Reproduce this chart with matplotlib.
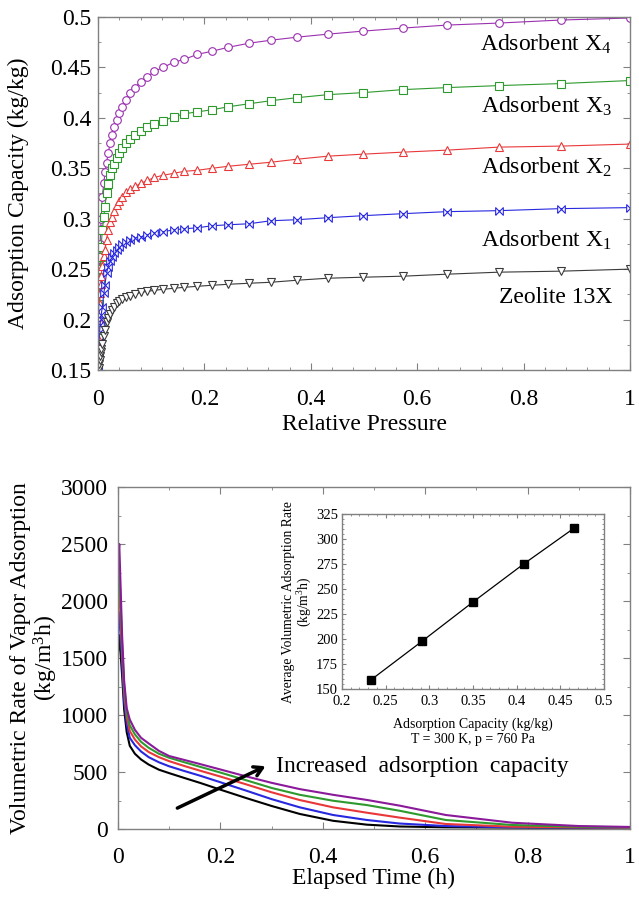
import matplotlib
matplotlib.use("Agg")
import matplotlib.pyplot as plt
from matplotlib import font_manager
from matplotlib.ticker import MultipleLocator

_names = {f.name for f in font_manager.fontManager.ttflist}
if 'Liberation Serif' in _names:
    SERIF = 'Liberation Serif'
else:
    SERIF = 'STIXGeneral'
plt.rcParams['font.family'] = [SERIF, 'STIXGeneral', 'DejaVu Serif']
plt.rcParams['mathtext.fontset'] = 'custom'
plt.rcParams['mathtext.rm'] = SERIF
plt.rcParams['mathtext.it'] = SERIF + ':italic'

# ---------------- Top panel data: adsorption isotherms ----------------
rel_pressure = [0.0, 0.001, 0.002, 0.003, 0.004, 0.005, 0.006, 0.008, 0.011, 0.013,
                0.016, 0.019, 0.023, 0.026, 0.030, 0.035, 0.040, 0.045, 0.053, 0.061,
                0.070, 0.080, 0.093, 0.106, 0.122, 0.142, 0.162, 0.187, 0.214, 0.245,
                0.284, 0.325, 0.374, 0.432, 0.498, 0.573, 0.656, 0.754, 0.870, 1.0]

cap_x4 = [0.15, 0.200, 0.235, 0.260, 0.275, 0.290, 0.300, 0.322, 0.335, 0.346,
          0.355, 0.365, 0.375, 0.383, 0.391, 0.398, 0.405, 0.411, 0.418, 0.425,
          0.430, 0.436, 0.441, 0.446, 0.450, 0.455, 0.458, 0.463, 0.466, 0.470,
          0.474, 0.477, 0.480, 0.483, 0.486, 0.489, 0.492, 0.494, 0.497, 0.499]
cap_x3 = [0.15, 0.190, 0.215, 0.235, 0.250, 0.262, 0.272, 0.289, 0.302, 0.312,
          0.325, 0.334, 0.343, 0.350, 0.354, 0.360, 0.365, 0.370, 0.375, 0.379,
          0.383, 0.387, 0.391, 0.394, 0.397, 0.401, 0.404, 0.406, 0.408, 0.411,
          0.414, 0.417, 0.420, 0.423, 0.425, 0.428, 0.430, 0.432, 0.434, 0.437]
cap_x2 = [0.15, 0.180, 0.200, 0.215, 0.226, 0.235, 0.243, 0.253, 0.263, 0.269,
          0.279, 0.289, 0.297, 0.302, 0.308, 0.314, 0.318, 0.322, 0.326, 0.329,
          0.332, 0.335, 0.338, 0.341, 0.343, 0.345, 0.347, 0.348, 0.350, 0.352,
          0.354, 0.356, 0.359, 0.362, 0.364, 0.366, 0.368, 0.371, 0.372, 0.374]
cap_x1 = [0.15, 0.165, 0.178, 0.188, 0.195, 0.201, 0.205, 0.212, 0.226, 0.234,
          0.246, 0.252, 0.258, 0.262, 0.266, 0.269, 0.272, 0.275, 0.277, 0.279,
          0.281, 0.282, 0.284, 0.286, 0.287, 0.289, 0.290, 0.291, 0.293, 0.294,
          0.295, 0.298, 0.299, 0.301, 0.303, 0.305, 0.307, 0.308, 0.310, 0.311]
cap_13x = [0.15, 0.152, 0.156, 0.160, 0.164, 0.168, 0.171, 0.176, 0.184, 0.190,
           0.198, 0.202, 0.206, 0.209, 0.212, 0.216, 0.218, 0.220, 0.222, 0.223,
           0.225, 0.227, 0.228, 0.229, 0.230, 0.231, 0.232, 0.233, 0.234, 0.235,
           0.236, 0.237, 0.239, 0.241, 0.242, 0.243, 0.245, 0.247, 0.248, 0.250]

iso_labels = ["Adsorbent X$_4$", "Adsorbent X$_3$", "Adsorbent X$_2$",
              "Adsorbent X$_1$", "Zeolite 13X"]
label_y = [0.473, 0.411, 0.351, 0.279, 0.222]

# ---------------- Bottom panel data: adsorption rate vs time ----------------
time_h = [0.0, 0.0025, 0.008, 0.012, 0.017, 0.023, 0.033, 0.045, 0.06, 0.08,
          0.1, 0.13, 0.16, 0.2, 0.25, 0.3, 0.355, 0.42, 0.486, 0.55,
          0.64, 0.77, 0.9, 1.0]
rate_13x = [1550, 1700, 1350, 1050, 850, 730, 660, 610, 565, 520,
            490, 447, 405, 345, 272, 202, 132, 72, 38, 22,
            15, 12, 10, 10]
rate_x1 = [1750, 1900, 1450, 1120, 920, 800, 735, 680, 630, 585,
           550, 508, 468, 410, 337, 262, 190, 123, 79, 48,
           26, 15, 12, 10]
rate_x2 = [1950, 2100, 1550, 1200, 980, 860, 785, 725, 675, 630,
           595, 552, 512, 460, 392, 322, 254, 190, 143, 100,
           44, 20, 15, 12]
rate_x3 = [2150, 2300, 1620, 1250, 1020, 910, 830, 765, 712, 660,
           625, 585, 546, 495, 428, 360, 300, 248, 210, 160,
           79, 35, 20, 15]
rate_x4 = [2350, 2500, 1700, 1300, 1060, 960, 870, 800, 750, 685,
           640, 605, 570, 522, 462, 405, 350, 300, 255, 205,
           123, 55, 26, 18]

# Inset data
inset_capacity = [0.233, 0.292, 0.350, 0.408, 0.466]
inset_rate = [159, 198, 237, 275, 311]

# ---------------- styles ----------------
c_purple = '#9b30b0'
c_green = '#2e9a2e'
c_red = '#e8383a'
c_blue = '#2828e0'
c_black = '#3a3a3a'
spine_c = '#808080'
bowtie = [(-1, -1), (-1, 1), (1, -1), (1, 1), (-1, -1)]

fig = plt.figure(figsize=(6.39, 9.0), dpi=100)


def style_axes(ax, fs, xpad, ypad, maj=5, mnr=2.5):
    for s in ax.spines.values():
        s.set_color(spine_c)
        s.set_linewidth(1.0)
    ax.tick_params(which='both', direction='in', top=True, right=True,
                   color=spine_c, labelsize=fs)
    ax.tick_params(which='major', length=maj, width=0.8)
    ax.tick_params(which='minor', length=mnr, width=0.6)
    ax.tick_params(axis='x', pad=xpad)
    ax.tick_params(axis='y', pad=ypad)


# ---- top panel ----
ax1 = fig.add_axes([98/639, 1-370/900, 532/639, 353/900])
series = [(cap_x4, c_purple, 'o'), (cap_x3, c_green, 's'), (cap_x2, c_red, '^'),
          (cap_x1, c_blue, bowtie), (cap_13x, c_black, 'v')]
for ys, col, mk in series:
    ax1.plot(rel_pressure, ys, color=col, lw=0.8, marker=mk, markersize=5.5,
             markerfacecolor='white', markeredgecolor=col, markeredgewidth=0.8)
ax1.set_xlim(0, 1)
ax1.set_ylim(0.15, 0.5)
ax1.xaxis.set_minor_locator(MultipleLocator(0.04))
ax1.yaxis.set_minor_locator(MultipleLocator(0.025))
ax1.set_xticks([0, 0.2, 0.4, 0.6, 0.8, 1.0])
ax1.set_xticklabels(['0', '0.2', '0.4', '0.6', '0.8', '1'])
ax1.set_yticks([0.15, 0.2, 0.25, 0.3, 0.35, 0.4, 0.45, 0.5])
ax1.set_yticklabels(['0.15', '0.2', '0.25', '0.3', '0.35', '0.4', '0.45', '0.5'])
style_axes(ax1, 17, 14, 5)
for lab, yv in zip(iso_labels, label_y):
    ax1.text(0.966, yv, lab, fontsize=17, ha='right', va='center')
fig.text(18/639, 1-193/900, 'Adsorption Capacity (kg/kg)', rotation=90,
         ha='center', va='center', fontsize=17)
fig.text(364/639, 1-425/900, 'Relative Pressure', ha='center', va='center',
         fontsize=17)

# ---- bottom panel ----
ax2 = fig.add_axes([118/639, 1-829/900, 512/639, 342/900])
for ys, col in [(rate_13x, 'black'), (rate_x1, c_blue), (rate_x2, c_red),
                (rate_x3, c_green), (rate_x4, '#8a1a9a')]:
    ax2.plot(time_h, ys, color=col, lw=1.5)
ax2.set_xlim(0, 1)
ax2.set_ylim(0, 3000)
ax2.set_xticks([0, 0.2, 0.4, 0.6, 0.8, 1.0])
ax2.set_xticklabels(['0', '0.2', '0.4', '0.6', '0.8', '1'])
ax2.xaxis.set_minor_locator(MultipleLocator(0.1))
ax2.yaxis.set_major_locator(MultipleLocator(500))
ax2.yaxis.set_minor_locator(MultipleLocator(250))
style_axes(ax2, 17, 13, 7)
ax2.annotate('', xy=(0.293, 561), xytext=(0.111, 173),
             arrowprops=dict(arrowstyle='->,head_length=0.6,head_width=0.35',
                             lw=2.5, color='black'))
ax2.text(0.309, 545, 'Increased  adsorption  capacity', fontsize=17,
         ha='left', va='center')
fig.text(35/639, 1-658/900, 'Volumetric Rate of Vapor Adsorption\n(kg/m$^3$h)',
         rotation=90, ha='center', va='center', fontsize=17, linespacing=1.05,
         multialignment='center')
fig.text(374/639, 1-878/900, 'Elapsed Time (h)', ha='center', va='center',
         fontsize=17)

# ---- inset ----
ax3 = fig.add_axes([342/639, 1-689/900, 262/639, 175/900])
ax3.plot(inset_capacity, inset_rate, color='black', lw=0.9, marker='s',
         markersize=6, markerfacecolor='black')
ax3.set_xlim(0.2, 0.5)
ax3.set_ylim(150, 325)
ax3.set_xticks([0.2, 0.25, 0.3, 0.35, 0.4, 0.45, 0.5])
ax3.set_xticklabels(['0.2', '0.25', '0.3', '0.35', '0.4', '0.45', '0.5'])
ax3.xaxis.set_minor_locator(MultipleLocator(0.01))
ax3.yaxis.set_major_locator(MultipleLocator(25))
ax3.yaxis.set_minor_locator(MultipleLocator(5))
style_axes(ax3, 10.5, 4.5, 3, maj=3, mnr=1.5)
fig.text(473/639, 1-724/900, 'Adsorption Capacity (kg/kg)', ha='center',
         va='center', fontsize=10)
fig.text(473/639, 1-740/900, 'T = 300 K, p = 760 Pa', ha='center',
         va='center', fontsize=10)
fig.text(298/639, 1-602/900, 'Average Volumetric Adsorption Rate\n(kg/m$^3$h)',
         rotation=90, ha='center', va='center', fontsize=9.8, linespacing=1.0,
         multialignment='center')

fig.savefig('out.png', dpi=100)
